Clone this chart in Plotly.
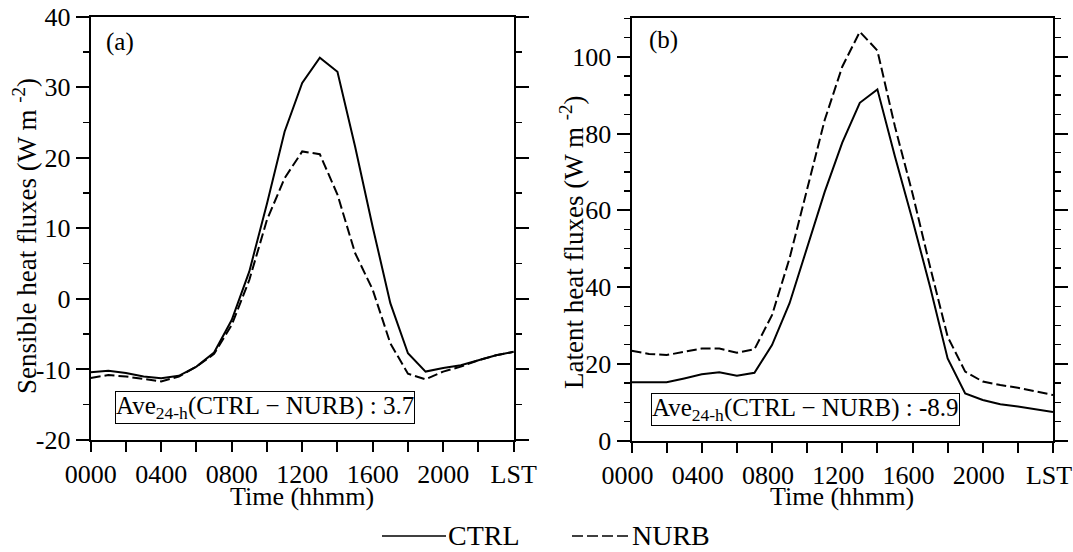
import plotly.graph_objects as go

hours = list(range(25))

# Panel (a) sensible heat flux (W m-2)
ctrl_sh = [-10.4, -10.2, -10.5, -11.0, -11.25, -10.9, -9.6, -7.6, -3.0, 3.9, 13.5, 23.7,
           30.6, 34.2, 32.2, 21.6, 10.2, -0.6, -7.7, -10.3, -9.8, -9.4, -8.7, -8.0, -7.5]
nurb_sh = [-11.2, -10.8, -11.0, -11.4, -11.7, -11.0, -9.6, -7.8, -3.7, 2.7, 11.2, 17.1,
           20.9, 20.5, 14.8, 6.5, 1.3, -6.3, -10.6, -11.4, -10.3, -9.6, -8.7, -8.0, -7.5]

# Panel (b) latent heat flux (W m-2)
ctrl_lh = [15.2, 15.2, 15.2, 16.2, 17.3, 17.8, 16.9, 17.7, 24.9, 35.8, 50.5, 64.8,
           77.6, 88.0, 91.5, 74.0, 57.5, 40.1, 21.4, 12.3, 10.6, 9.5, 8.9, 8.2, 7.5]
nurb_lh = [23.4, 22.6, 22.3, 23.2, 24.0, 24.0, 22.9, 23.8, 32.7, 47.5, 65.7, 83.5,
           97.4, 106.5, 101.6, 81.8, 64.4, 45.3, 27.1, 18.0, 15.4, 14.5, 13.8, 12.8, 11.9]

x_tick_vals = [0, 4, 8, 12, 16, 20, 24]
x_tick_text = ["0000", "0400", "0800", "1200", "1600", "2000", "LST"]

ya_vals = [-20, -10, 0, 10, 20, 30, 40]
ya_text = ["-20", "-10", "0", "10", "20", "30", "40"]
yb_vals = [0, 20, 40, 60, 80, 100]
yb_text = ["0", "20", "40", "60", "80", "100"]

ave_a = "3.7"
ave_b = "-8.9"

FONT = "Liberation Serif"
W, H = 1073, 552


def px(x):
    return x / W


def py(y):
    return 1 - y / H


fig = go.Figure()
line_w = 2
dash = "10px,4px"

fig.add_trace(go.Scatter(x=hours, y=ctrl_sh, mode="lines", name="CTRL",
                         line=dict(color="black", width=line_w), xaxis="x", yaxis="y",
                         showlegend=False))
fig.add_trace(go.Scatter(x=hours, y=nurb_sh, mode="lines", name="NURB",
                         line=dict(color="black", width=line_w, dash=dash), xaxis="x", yaxis="y",
                         showlegend=False))
fig.add_trace(go.Scatter(x=hours, y=ctrl_lh, mode="lines", name="CTRL",
                         line=dict(color="black", width=line_w), xaxis="x2", yaxis="y2",
                         showlegend=False))
fig.add_trace(go.Scatter(x=hours, y=nurb_lh, mode="lines", name="NURB",
                         line=dict(color="black", width=line_w, dash=dash), xaxis="x2", yaxis="y2",
                         showlegend=False))

tickfont = dict(family=FONT, size=26, color="black")

xcommon = dict(range=[0, 24], tickvals=x_tick_vals, ticktext=x_tick_text, ticks="outside",
               ticklen=10, tickwidth=2, tickcolor="black", showline=True, linecolor="black",
               linewidth=2, mirror=True, showgrid=False, zeroline=False, tickfont=tickfont,
               fixedrange=True, automargin=False, ticklabeloverflow="allow",
               minor=dict(tick0=0, dtick=2, ticks="outside", ticklen=10, tickwidth=2,
                          tickcolor="black"))
ycommon = dict(ticks="outside", ticklen=13, tickwidth=2, tickcolor="black", showline=True,
               linecolor="black", linewidth=2, mirror="ticks", showgrid=False, zeroline=False,
               tickfont=tickfont, fixedrange=True, automargin=False,
               minor=dict(dtick=5, ticks="outside", ticklen=6, tickwidth=1.5, tickcolor="black"))

fig.update_layout(
    width=W, height=H,
    margin=dict(l=0, r=0, t=0, b=0),
    paper_bgcolor="white", plot_bgcolor="white",
    font=dict(family=FONT, color="black"),
    xaxis=dict(domain=[px(90.7), px(513.7)], anchor="y", **xcommon),
    yaxis=dict(domain=[py(440), py(16.7)], anchor="x", range=[-20, 40],
               tickvals=ya_vals, ticktext=ya_text, **ycommon),
    xaxis2=dict(domain=[px(631.5), px(1053)], anchor="y2", ticklabelshift=-4, **xcommon),
    yaxis2=dict(domain=[py(440.7), py(18.3)], anchor="x2", range=[0, 110],
                tickvals=yb_vals, ticktext=yb_text, **ycommon),
    showlegend=False,
)

annots = [
    dict(text="Sensible heat fluxes (W m <sup>-2</sup>)", x=px(25), y=py(236), textangle=-90,
         font=dict(size=27)),
    dict(text="Latent heat fluxes (W m <sup>-2</sup>)", x=px(572), y=py(243), textangle=-90,
         font=dict(size=27)),
    dict(text="Time (hhmm)", x=px(302), y=py(496), font=dict(size=26)),
    dict(text="Time (hhmm)", x=px(842), y=py(496), font=dict(size=26)),
    dict(text="(a)", x=px(120), y=py(42), font=dict(size=25)),
    dict(text="(b)", x=px(663), y=py(40), font=dict(size=25)),
    dict(text="Ave<sub>24-h</sub>(CTRL − NURB) : " + ave_a, x=px(264.5), y=py(407.7),
         font=dict(size=25), bordercolor="black", borderwidth=1, borderpad=0, bgcolor="white"),
    dict(text="Ave<sub>24-h</sub>(CTRL − NURB) : " + ave_b, x=px(805), y=py(409),
         font=dict(size=25), bordercolor="black", borderwidth=1, borderpad=0, bgcolor="white"),
    dict(text="CTRL", x=px(446), y=py(535), xanchor="left", font=dict(size=28)),
    dict(text="NURB", x=px(630), y=py(535), xanchor="left", font=dict(size=28)),
]
for a in annots:
    a.setdefault("xanchor", "center")
    a.update(xref="paper", yref="paper", showarrow=False, yanchor="middle")
    a["font"] = dict(family=FONT, color="black", **a["font"])
    fig.add_annotation(**a)

# legend keys
fig.add_shape(type="line", xref="paper", yref="paper", x0=px(382), x1=px(446), y0=py(536), y1=py(536),
              line=dict(color="black", width=1.5))
fig.add_shape(type="line", xref="paper", yref="paper", x0=px(572), x1=px(630), y0=py(536), y1=py(536),
              line=dict(color="black", width=1.5, dash="11px,4px"))

fig.write_html("out.html", config={"displayModeBar": False, "staticPlot": True},
               post_script="document.body.style.margin='0';document.body.style.overflow='hidden';")
